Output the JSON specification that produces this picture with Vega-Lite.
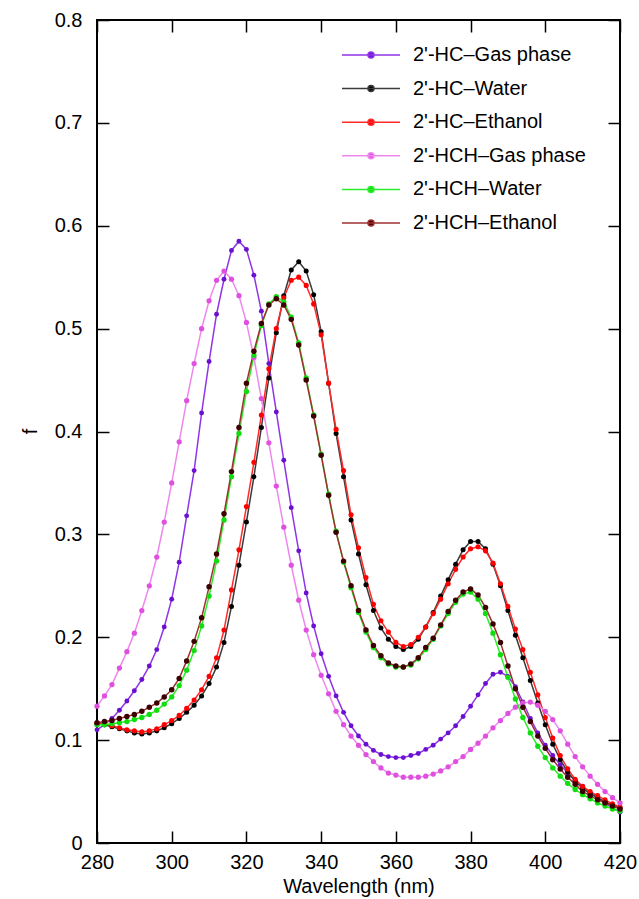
{
"$schema": "https://vega.github.io/schema/vega-lite/v6.json",
"width": 523, "height": 823,
"autosize": "none",
"padding": {"left": 97, "top": 20, "right": 19, "bottom": 56},
"background": "white",
"config": {
 "view": {"stroke": "#000", "strokeWidth": 2},
 "font": "Liberation Sans",
 "axis": {"domain": false, "grid": false, "labelFlush": false, "labelOverlap": false, "labelFont": "Liberation Sans", "labelFontSize": 20, "labelColor": "#000", "titleFont": "Liberation Sans", "titleFontSize": 20, "titleFontWeight": "normal", "titleColor": "#000", "tickColor": "#000", "tickSize": -12, "tickWidth": 1.5}
},
"data": {"values": [
{"x":280,"p":0.110,"k":0.116,"r":0.116,"m":0.133,"g":0.115,"b":0.117},
{"x":282,"p":0.115,"k":0.115,"r":0.116,"m":0.143,"g":0.115,"b":0.118},
{"x":284,"p":0.121,"k":0.113,"r":0.114,"m":0.154,"g":0.116,"b":0.119},
{"x":286,"p":0.129,"k":0.111,"r":0.112,"m":0.170,"g":0.117,"b":0.121},
{"x":288,"p":0.138,"k":0.109,"r":0.110,"m":0.186,"g":0.118,"b":0.123},
{"x":290,"p":0.148,"k":0.107,"r":0.109,"m":0.204,"g":0.120,"b":0.125},
{"x":292,"p":0.159,"k":0.106,"r":0.108,"m":0.226,"g":0.122,"b":0.128},
{"x":294,"p":0.172,"k":0.107,"r":0.109,"m":0.250,"g":0.125,"b":0.132},
{"x":296,"p":0.188,"k":0.109,"r":0.111,"m":0.278,"g":0.129,"b":0.136},
{"x":298,"p":0.210,"k":0.112,"r":0.115,"m":0.312,"g":0.135,"b":0.142},
{"x":300,"p":0.237,"k":0.116,"r":0.119,"m":0.350,"g":0.142,"b":0.149},
{"x":302,"p":0.273,"k":0.121,"r":0.124,"m":0.390,"g":0.153,"b":0.160},
{"x":304,"p":0.318,"k":0.127,"r":0.131,"m":0.430,"g":0.168,"b":0.177},
{"x":306,"p":0.362,"k":0.134,"r":0.139,"m":0.466,"g":0.187,"b":0.196},
{"x":308,"p":0.418,"k":0.143,"r":0.149,"m":0.500,"g":0.211,"b":0.219},
{"x":310,"p":0.468,"k":0.155,"r":0.162,"m":0.527,"g":0.240,"b":0.249},
{"x":312,"p":0.514,"k":0.171,"r":0.180,"m":0.547,"g":0.274,"b":0.281},
{"x":314,"p":0.548,"k":0.195,"r":0.207,"m":0.556,"g":0.314,"b":0.320},
{"x":316,"p":0.576,"k":0.230,"r":0.246,"m":0.548,"g":0.356,"b":0.361},
{"x":318,"p":0.585,"k":0.270,"r":0.285,"m":0.532,"g":0.398,"b":0.404},
{"x":320,"p":0.577,"k":0.312,"r":0.327,"m":0.506,"g":0.439,"b":0.447},
{"x":322,"p":0.552,"k":0.356,"r":0.370,"m":0.472,"g":0.474,"b":0.478},
{"x":324,"p":0.517,"k":0.404,"r":0.416,"m":0.432,"g":0.503,"b":0.505},
{"x":326,"p":0.466,"k":0.452,"r":0.461,"m":0.389,"g":0.524,"b":0.523},
{"x":328,"p":0.419,"k":0.496,"r":0.500,"m":0.347,"g":0.531,"b":0.529},
{"x":330,"p":0.372,"k":0.532,"r":0.530,"m":0.307,"g":0.526,"b":0.523},
{"x":332,"p":0.326,"k":0.557,"r":0.547,"m":0.270,"g":0.511,"b":0.509},
{"x":334,"p":0.284,"k":0.565,"r":0.550,"m":0.236,"g":0.486,"b":0.484},
{"x":336,"p":0.243,"k":0.556,"r":0.542,"m":0.207,"g":0.452,"b":0.450},
{"x":338,"p":0.211,"k":0.533,"r":0.524,"m":0.183,"g":0.416,"b":0.415},
{"x":340,"p":0.184,"k":0.497,"r":0.494,"m":0.163,"g":0.378,"b":0.377},
{"x":342,"p":0.162,"k":0.447,"r":0.447,"m":0.145,"g":0.339,"b":0.338},
{"x":344,"p":0.143,"k":0.398,"r":0.402,"m":0.128,"g":0.303,"b":0.302},
{"x":346,"p":0.127,"k":0.356,"r":0.362,"m":0.115,"g":0.273,"b":0.274},
{"x":348,"p":0.114,"k":0.314,"r":0.319,"m":0.104,"g":0.248,"b":0.250},
{"x":350,"p":0.104,"k":0.281,"r":0.287,"m":0.095,"g":0.224,"b":0.226},
{"x":352,"p":0.096,"k":0.251,"r":0.258,"m":0.086,"g":0.205,"b":0.207},
{"x":354,"p":0.090,"k":0.226,"r":0.232,"m":0.079,"g":0.190,"b":0.192},
{"x":356,"p":0.086,"k":0.209,"r":0.216,"m":0.073,"g":0.180,"b":0.182},
{"x":358,"p":0.084,"k":0.198,"r":0.205,"m":0.068,"g":0.174,"b":0.175},
{"x":360,"p":0.083,"k":0.191,"r":0.195,"m":0.066,"g":0.171,"b":0.172},
{"x":362,"p":0.083,"k":0.188,"r":0.191,"m":0.064,"g":0.171,"b":0.171},
{"x":364,"p":0.085,"k":0.191,"r":0.193,"m":0.064,"g":0.173,"b":0.174},
{"x":366,"p":0.087,"k":0.198,"r":0.200,"m":0.064,"g":0.179,"b":0.180},
{"x":368,"p":0.091,"k":0.210,"r":0.210,"m":0.065,"g":0.188,"b":0.190},
{"x":370,"p":0.095,"k":0.224,"r":0.223,"m":0.067,"g":0.198,"b":0.199},
{"x":372,"p":0.101,"k":0.240,"r":0.237,"m":0.070,"g":0.211,"b":0.212},
{"x":374,"p":0.107,"k":0.256,"r":0.252,"m":0.074,"g":0.223,"b":0.225},
{"x":376,"p":0.114,"k":0.271,"r":0.266,"m":0.079,"g":0.234,"b":0.236},
{"x":378,"p":0.123,"k":0.285,"r":0.278,"m":0.084,"g":0.242,"b":0.244},
{"x":380,"p":0.133,"k":0.293,"r":0.286,"m":0.091,"g":0.244,"b":0.247},
{"x":382,"p":0.144,"k":0.293,"r":0.288,"m":0.097,"g":0.237,"b":0.241},
{"x":384,"p":0.155,"k":0.286,"r":0.284,"m":0.104,"g":0.223,"b":0.229},
{"x":386,"p":0.164,"k":0.271,"r":0.272,"m":0.112,"g":0.204,"b":0.213},
{"x":388,"p":0.166,"k":0.250,"r":0.252,"m":0.119,"g":0.183,"b":0.195},
{"x":390,"p":0.162,"k":0.226,"r":0.230,"m":0.126,"g":0.161,"b":0.172},
{"x":392,"p":0.152,"k":0.202,"r":0.208,"m":0.132,"g":0.140,"b":0.150},
{"x":394,"p":0.137,"k":0.180,"r":0.188,"m":0.136,"g":0.122,"b":0.132},
{"x":396,"p":0.121,"k":0.158,"r":0.166,"m":0.137,"g":0.107,"b":0.118},
{"x":398,"p":0.107,"k":0.136,"r":0.144,"m":0.134,"g":0.094,"b":0.104},
{"x":400,"p":0.095,"k":0.115,"r":0.122,"m":0.128,"g":0.083,"b":0.092},
{"x":402,"p":0.085,"k":0.096,"r":0.102,"m":0.120,"g":0.073,"b":0.081},
{"x":404,"p":0.076,"k":0.081,"r":0.085,"m":0.109,"g":0.065,"b":0.072},
{"x":406,"p":0.068,"k":0.069,"r":0.072,"m":0.096,"g":0.058,"b":0.064},
{"x":408,"p":0.061,"k":0.060,"r":0.062,"m":0.084,"g":0.052,"b":0.057},
{"x":410,"p":0.055,"k":0.053,"r":0.055,"m":0.074,"g":0.047,"b":0.050},
{"x":412,"p":0.049,"k":0.048,"r":0.050,"m":0.065,"g":0.043,"b":0.046},
{"x":414,"p":0.044,"k":0.044,"r":0.046,"m":0.057,"g":0.039,"b":0.042},
{"x":416,"p":0.039,"k":0.040,"r":0.042,"m":0.050,"g":0.036,"b":0.039},
{"x":418,"p":0.034,"k":0.037,"r":0.038,"m":0.044,"g":0.033,"b":0.036},
{"x":420,"p":0.030,"k":0.034,"r":0.035,"m":0.039,"g":0.031,"b":0.033}
]},
"transform": [{"fold": ["p","k","r","m","g","b"], "as": ["s","f"]}],
"layer": [
 {"mark": {"type": "line", "strokeWidth": 1.5},
  "encoding": {
   "x": {"field": "x", "type": "quantitative", "scale": {"domain": [280,420], "nice": false},
         "axis": {"values": [280,300,320,340,360,380,400,420], "title": "Wavelength (nm)", "labelPadding": 21, "titleY": 43, "titleBaseline": "middle"}},
   "y": {"field": "f", "type": "quantitative", "scale": {"domain": [0,0.8], "nice": false},
         "axis": {"values": [0,0.1,0.2,0.3,0.4,0.5,0.6,0.7,0.8], "format": "~g", "title": "f", "labelPadding": 27, "titleX": -67, "titleY": 411, "titleBaseline": "middle"}},
   "stroke": {"field": "s", "type": "nominal", "scale": {"domain": ["p","k","r","m","g","b"], "range": ["#9035e6","#3a3a3a","#ff2a2a","#ee88ee","#2aee2a","#a03030"]}}
  }},
 {"mark": {"type": "point", "filled": true, "opacity": 1},
  "encoding": {
   "x": {"field": "x", "type": "quantitative", "axis": {"orient": "top", "labels": false, "title": null, "values": [280,300,320,340,360,380,400,420]}},
   "y": {"field": "f", "type": "quantitative", "axis": {"orient": "right", "labels": false, "title": null, "values": [0,0.1,0.2,0.3,0.4,0.5,0.6,0.7,0.8]}},
   "fill": {"field": "s", "type": "nominal", "scale": {"domain": ["p","k","r","m","g","b"], "range": ["#6a10d0","#000000","#ff0000","#e050e0","#10dd10","#3c0000"]},
     "legend": {"orient": "none", "legendX": 264, "legendY": 25, "title": null, "padding": 0, "offset": 0,
       "labelFont": "Liberation Sans", "labelFontSize": 20, "labelColor": "#000", "labelOffset": 32, "labelLimit": 400,
       "symbolType": "M-5.8,0L5.8,0M0.6,0A0.6,0.6,0,1,1,-0.6,0A0.6,0.6,0,1,1,0.6,0Z", "symbolSize": 100, "symbolStrokeWidth": 1.5,
       "rowPadding": 13.6,
       "labelExpr": "datum.label == 'p' ? \"2'-HC–Gas phase\" : datum.label == 'k' ? \"2'-HC–Water\" : datum.label == 'r' ? \"2'-HC–Ethanol\" : datum.label == 'm' ? \"2'-HCH–Gas phase\" : datum.label == 'g' ? \"2'-HCH–Water\" : \"2'-HCH–Ethanol\"",
       "encode": {"symbols": {"update": {"size": {"value": 100}, "strokeWidth": {"value": 1.5}, "opacity": {"value": 1}}}}}},
   "size": {"field": "s", "type": "nominal", "scale": {"domain": ["b","g","m","r","k","p"], "range": [30,24,16,36,20,22]}, "legend": null}
  }}
],
"resolve": {"axis": {"x": "independent", "y": "independent"}}
}
